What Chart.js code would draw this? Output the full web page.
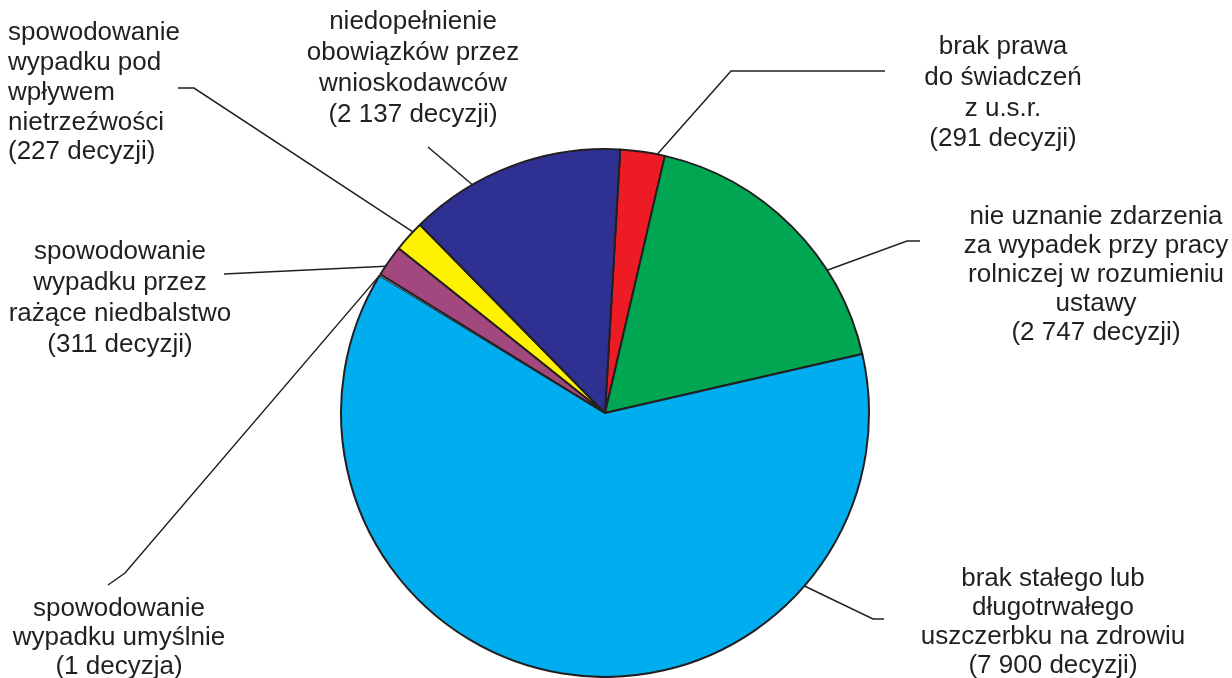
<!DOCTYPE html>
<html>
<head>
<meta charset="utf-8">
<script src="https://cdn.jsdelivr.net/npm/chart.js@4.4.1/dist/chart.umd.min.js"></script>
<style>
    html, body { margin: 0; padding: 0; background: #fff; }
</style>
</head>
<body>
<canvas id="chart" width="1232" height="678"></canvas>
<script>
const categories = [
    'brak prawa do świadczeń z u.s.r.',
    'nie uznanie zdarzenia za wypadek przy pracy rolniczej',
    'brak stałego lub długotrwałego uszczerbku na zdrowiu',
    'spowodowanie wypadku umyślnie',
    'spowodowanie wypadku przez rażące niedbalstwo',
    'spowodowanie wypadku pod wpływem nietrzeźwości',
    'niedopełnienie obowiązków przez wnioskodawców'
];
const decisionCounts = [291, 2747, 7900, 1, 311, 227, 2137];
// slice sizes as drawn in the picture (degrees of the circle)
const sliceShares = [9.8, 64.0, 224.3, 0.3, 6.9, 6.9, 47.8];
const sliceColors = ['#ed1c24', '#00a651', '#00aeef', '#ffffff', '#a3487f', '#fff200', '#2e3192'];
const labelLines = [
    ['brak prawa', 'do świadczeń', 'z u.s.r.'],
    ['nie uznanie zdarzenia', 'za wypadek przy pracy', 'rolniczej w rozumieniu', 'ustawy'],
    ['brak stałego lub', 'długotrwałego', 'uszczerbku na zdrowiu'],
    ['spowodowanie', 'wypadku umyślnie'],
    ['spowodowanie', 'wypadku przez', 'rażące niedbalstwo'],
    ['spowodowanie', 'wypadku pod', 'wpływem', 'nietrzeźwości'],
    ['niedopełnienie', 'obowiązków przez', 'wnioskodawców']
];

// where each label sits and how its leader line runs to the slice
const labelLayout = [
    { x: 1003, y: 47, gap: 30.7, align: 'center', path: [[885, 71], [731, 71]], at: 0.83 },
    { x: 1096, y: 217, gap: 29, align: 'center', path: [[920, 241], [907, 241]], at: 0.69 },
    { x: 1053, y: 579, gap: 29, align: 'center', path: [[884, 619], [873, 619]], at: 0.24 },
    { x: 119, y: 609, gap: 29, align: 'center', path: [[108, 585], [125, 573]], at: 0.5 },
    { x: 120, y: 252, gap: 31, align: 'center', path: [[224, 274]], at: 0.3 },
    { x: 8, y: 33, gap: 29.8, align: 'left', path: [[178, 88], [194, 88]], at: 0.68 },
    { x: 413, y: 22, gap: 31, align: 'center', path: [[428, 147]], at: 0.3 }
];
const inkColor = '#231f20';

function countText(n) {
    const s = String(n).replace(/\B(?=(\d{3})+(?!\d))/g, ' ');
    return '(' + s + (n === 1 ? ' decyzja)' : ' decyzji)');
}

const labelPlugin = {
    id: 'sliceLabels',
    afterDraw(chart) {
        const ctx = chart.ctx;
        const arcs = chart.getDatasetMeta(0).data;
        ctx.save();
        ctx.strokeStyle = inkColor;
        ctx.lineWidth = 1.5;
        labelLayout.forEach((lay, i) => {
            const p = arcs[i].getProps(['x', 'y', 'startAngle', 'endAngle', 'outerRadius'], true);
            const a = p.startAngle + lay.at * (p.endAngle - p.startAngle);
            ctx.beginPath();
            ctx.moveTo(lay.path[0][0], lay.path[0][1]);
            lay.path.slice(1).forEach(pt => ctx.lineTo(pt[0], pt[1]));
            ctx.lineTo(p.x + Math.cos(a) * p.outerRadius, p.y + Math.sin(a) * p.outerRadius);
            ctx.stroke();

            const lines = labelLines[i].concat([countText(decisionCounts[i])]);
            ctx.fillStyle = inkColor;
            ctx.font = '26px "Liberation Sans", Arial, sans-serif';
            ctx.textAlign = lay.align;
            ctx.textBaseline = 'middle';
            lines.forEach((t, k) => ctx.fillText(t, lay.x, lay.y + k * lay.gap));
        });
        ctx.restore();
    }
};

new Chart(document.getElementById('chart'), {
    type: 'pie',
    data: {
        labels: categories,
        datasets: [{
            data: sliceShares,
            backgroundColor: sliceColors,
            borderColor: inkColor,
            borderWidth: [2, 2, 2, 0, 2, 2, 2],
            hoverOffset: 0
        }]
    },
    options: {
        responsive: false,
        animation: false,
        rotation: 3.3,
        layout: { padding: { left: 340, right: 362, top: 148, bottom: 0 } },
        plugins: {
            legend: { display: false },
            tooltip: { enabled: false }
        }
    },
    plugins: [labelPlugin]
});
</script>
</body>
</html>
